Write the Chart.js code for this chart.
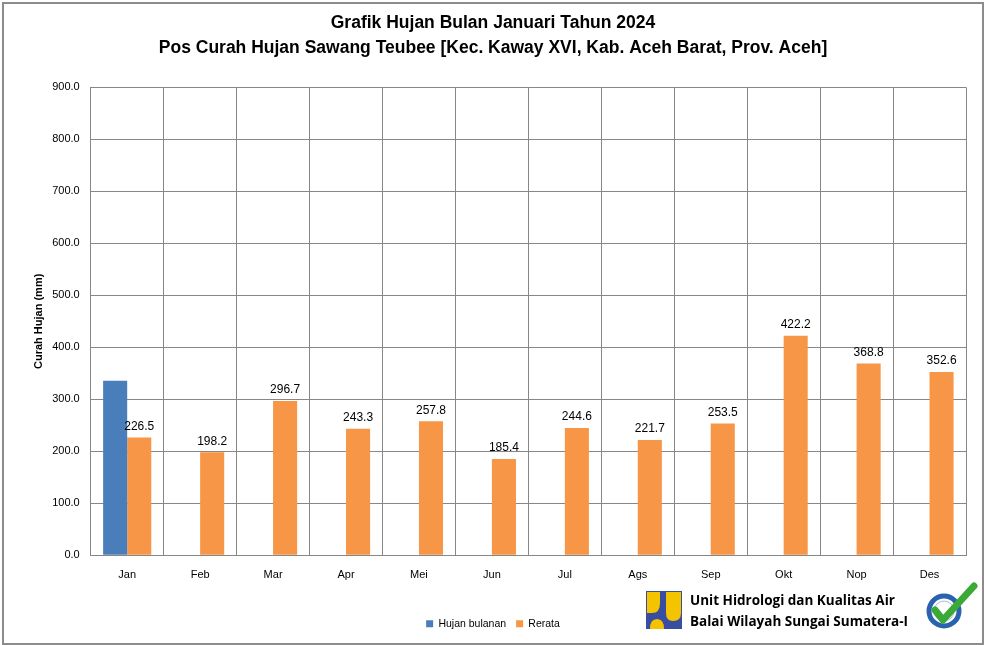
<!DOCTYPE html>
<html>
<head>
<meta charset="utf-8">
<script src="https://cdn.jsdelivr.net/npm/chart.js@4.4.1/dist/chart.umd.min.js"></script>
<style>
  html, body { margin: 0; padding: 0; background: #fff; }
  #wrap { position: relative; width: 984px; height: 645px; }
  #frame { position: absolute; left: 2px; top: 2px; width: 978px; height: 639px; border: 2px solid #8c8c8c; box-sizing: content-box; pointer-events: none; }
  #logo { position: absolute; left: 646px; top: 591px; }
  #unit { position: absolute; left: 690px; top: 590px; font: bold 13.5px "Open Sans", "DejaVu Sans", sans-serif; line-height: 21px; color: #000; }
  #badge { position: absolute; left: 924px; top: 582px; }
</style>
</head>
<body>
<div id="wrap">
  <canvas id="chart" width="984" height="645"></canvas>
  <div id="frame"></div>
  <svg id="logo" width="36" height="38" viewBox="0 0 36 38">
    <rect x="0" y="0" width="36" height="38" fill="#3a4ea0"/>
    <path d="M1 1 H14 V12 Q14 22 6 22 H1 Z" fill="#f4c400"/>
    <path d="M20 1 H35 V22 Q35 30 27 30 Q20 30 20 22 Z" fill="#f4c400"/>
    <path d="M4 38 Q4 28 11 28 Q18 28 18 38 Z" fill="#f4c400"/>
  </svg>
  <div id="unit">Unit Hidrologi dan Kualitas Air<br>Balai Wilayah Sungai Sumatera-I</div>
  <svg id="badge" width="56" height="50" viewBox="0 0 56 50">
    <circle cx="20" cy="29" r="15" fill="#fff" stroke="#2a62b0" stroke-width="5"/>
    <circle cx="20" cy="29" r="10" fill="none" stroke="#9fc0e8" stroke-width="1"/>
    <path d="M11 28 L19 38 L50 4" fill="none" stroke="#3aa935" stroke-width="7" stroke-linecap="round" stroke-linejoin="round"/>
  </svg>
</div>
<script>
// =======================
// DATA
// =======================
const months = ["Jan", "Feb", "Mar", "Apr", "Mei", "Jun", "Jul", "Ags", "Sep", "Okt", "Nop", "Des"];
const hujanBulanan = [335.5, null, null, null, null, null, null, null, null, null, null, null];
const rerata = [226.5, 198.2, 296.7, 243.3, 257.8, 185.4, 244.6, 221.7, 253.5, 422.2, 368.8, 352.6];
const titleLines = [
    "Grafik Hujan Bulan Januari Tahun 2024",
    "Pos Curah Hujan Sawang Teubee [Kec. Kaway XVI, Kab. Aceh Barat, Prov. Aceh]"
];

const gridColor = "#878787";
const baseFont = "'Liberation Sans', Arial, sans-serif";

// =======================
// VALUE LABELS
// =======================
const valueLabels = {
    id: "valueLabels",
    afterDatasetsDraw(chart) {
        const ctx = chart.ctx;
        const meta = chart.getDatasetMeta(1);
        ctx.save();
        ctx.font = "12px " + baseFont;
        ctx.fillStyle = "#000";
        ctx.textAlign = "center";
        ctx.textBaseline = "bottom";
        meta.data.forEach((bar, i) => {
            const v = rerata[i];
            if (v == null) return;
            ctx.fillText(v.toFixed(1), bar.x, bar.y - 5);
        });
        ctx.restore();
    }
};

// =======================
// CHART
// =======================
new Chart(document.getElementById("chart"), {
    type: "bar",
    data: {
        labels: months,
        datasets: [{
            label: "Hujan bulanan",
            data: hujanBulanan,
            backgroundColor: "#4a7ebb",
            categoryPercentage: 0.66,
            barPercentage: 1.0
        }, {
            label: "Rerata",
            data: rerata,
            backgroundColor: "#f79646",
            categoryPercentage: 0.66,
            barPercentage: 1.0
        }]
    },
    options: {
        responsive: false,
        animation: false,
        layout: { padding: { left: 20, right: 18, top: 3, bottom: 6 } },
        plugins: {
            title: {
                display: true,
                text: titleLines,
                color: "#000",
                font: { family: "'Liberation Sans Narrow', 'Arial Narrow', " + baseFont, size: 17.5, weight: "bold", lineHeight: 1.41 },
                padding: { top: 8, bottom: 27 }
            },
            legend: {
                position: "bottom",
                labels: {
                    color: "#000",
                    boxWidth: 7,
                    boxHeight: 7,
                    padding: 10,
                    font: { family: baseFont, size: 10.5 }
                }
            },
            tooltip: { enabled: false }
        },
        scales: {
            x: {
                grid: { color: gridColor, offset: true, tickLength: 5, tickColor: "transparent" },
                border: { color: gridColor },
                ticks: { color: "#000", font: { family: baseFont, size: 11 }, padding: 8 },
                afterFit: s => { s.height += 19; }
            },
            y: {
                min: 0,
                max: 900,
                ticks: {
                    stepSize: 100,
                    color: "#000",
                    font: { family: baseFont, size: 11 },
                    padding: 6,
                    callback: v => v.toFixed(1)
                },
                grid: { color: gridColor, tickLength: 5, tickColor: "transparent" },
                border: { color: gridColor },
                title: {
                    display: true,
                    text: "Curah Hujan (mm)",
                    color: "#000",
                    font: { family: baseFont, size: 11, weight: "bold" },
                    padding: { top: 12, bottom: 1 }
                }
            }
        }
    },
    plugins: [valueLabels]
});
</script>
</body>
</html>
